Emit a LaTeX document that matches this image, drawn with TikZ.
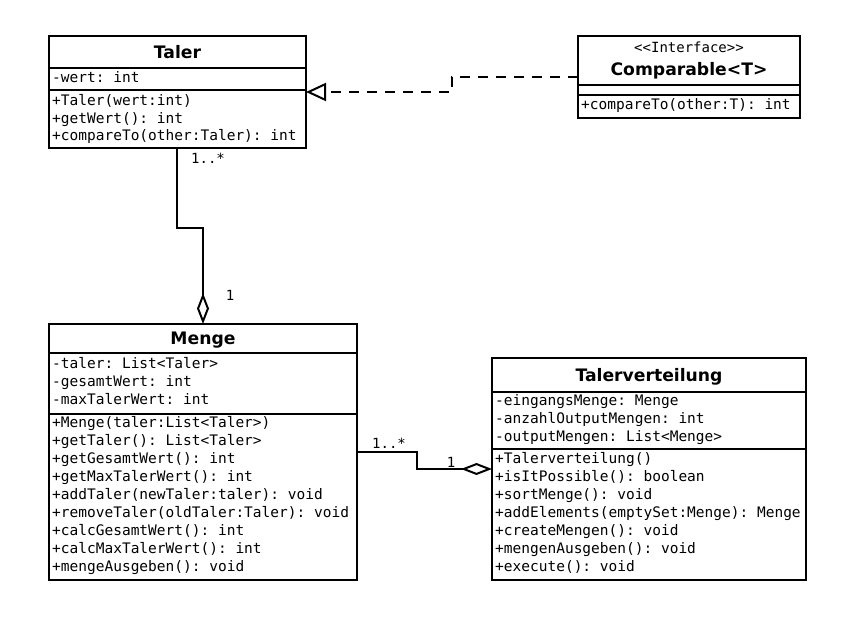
\documentclass[tikz,border=0pt]{standalone}
\usepackage{fontspec}
\setmainfont{DejaVu Sans}
\setmonofont{DejaVu Sans Mono}
\usetikzlibrary{arrows.meta}
\begin{document}
\begin{tikzpicture}[x=1pt,y=-1pt,
  box/.style={draw, line width=2pt, anchor=north west, inner sep=0pt, outer sep=0pt},
  sep/.style={line width=2pt},
  mem/.style={anchor=west, inner sep=0pt, text height=11pt, text depth=3.5pt, font=\ttfamily\fontsize{14.5}{18}\selectfont},
  ttl/.style={anchor=center, inner sep=0pt, text height=12.5pt, text depth=0pt, font=\bfseries\fontsize{17.2}{20}\selectfont},
  stereo/.style={anchor=center, inner sep=0pt, text height=10pt, text depth=2pt, font=\ttfamily\fontsize{14}{16}\selectfont},
  lbl/.style={anchor=center, inner sep=0pt, text height=10pt, text depth=0pt, font=\ttfamily\fontsize{14}{16}\selectfont},
  agg/.style={line width=2pt, -{Diamond[open, length=31pt, width=12pt, line width=2pt]}},
  real/.style={line width=2pt, dash pattern=on 10pt off 8pt, -{Triangle[open, length=20pt, width=18pt, line width=2pt]}},
]
\useasboundingbox (0,0) rectangle (849,629);

% ---------- Taler ----------
\node[box, minimum width=257pt, minimum height=112pt] (taler) at (49,36) {};
\draw[sep] (49,68) -- (306,68);
\draw[sep] (49,90) -- (306,90);
\node[ttl] (talerT) at (177.5,52) {Taler};
\node[mem] (talerA1) at (52,79) {-wert: int};
\node[mem] (talerM1) at (52,101.5) {+Taler(wert:int)};
\node[mem] (talerM2) at (52,119.5) {+getWert(): int};
\node[mem] (talerM3) at (52,137) {+compareTo(other:Taler): int};

% ---------- Comparable ----------
\node[box, minimum width=222pt, minimum height=82pt] (comp) at (578,36) {};
\draw[sep] (578,85) -- (800,85);
\draw[sep] (578,95) -- (800,95);
\node[stereo] (compS) at (689,48) {<<Interface>>};
\node[ttl] (compT) at (689,69) {Comparable<T>};
\node[mem] (compM1) at (581,106) {+compareTo(other:T): int};

% ---------- Menge ----------
\node[box, minimum width=308pt, minimum height=256pt] (menge) at (49,324) {};
\draw[sep] (49,353) -- (357,353);
\draw[sep] (49,414) -- (357,414);
\node[ttl] (mengeT) at (203,338.5) {Menge};
\node[mem] (mengeA1) at (52,365) {-taler: List<Taler>};
\node[mem] (mengeA2) at (52,383) {-gesamtWert: int};
\node[mem] (mengeA3) at (52,401) {-maxTalerWert: int};
\node[mem] (mengeM1) at (52,424) {+Menge(taler:List<Taler>)};
\node[mem] (mengeM2) at (52,442) {+getTaler(): List<Taler>};
\node[mem] (mengeM3) at (52,460) {+getGesamtWert(): int};
\node[mem] (mengeM4) at (52,478) {+getMaxTalerWert(): int};
\node[mem] (mengeM5) at (52,496) {+addTaler(newTaler:taler): void};
\node[mem] (mengeM6) at (52,514) {+removeTaler(oldTaler:Taler): void};
\node[mem] (mengeM7) at (52,532) {+calcGesamtWert(): int};
\node[mem] (mengeM8) at (52,550) {+calcMaxTalerWert(): int};
\node[mem] (mengeM9) at (52,568) {+mengeAusgeben(): void};

% ---------- Talerverteilung ----------
\node[box, minimum width=314pt, minimum height=222pt] (tv) at (492,358) {};
\draw[sep] (492,392) -- (806,392);
\draw[sep] (492,449) -- (806,449);
\node[ttl] (tvT) at (649,375.5) {Talerverteilung};
\node[mem] (tvA1) at (495,402) {-eingangsMenge: Menge};
\node[mem] (tvA2) at (495,420) {-anzahlOutputMengen: int};
\node[mem] (tvA3) at (495,438) {-outputMengen: List<Menge>};
\node[mem] (tvM1) at (495,460) {+Talerverteilung()};
\node[mem] (tvM2) at (495,478) {+isItPossible(): boolean};
\node[mem] (tvM3) at (495,496) {+sortMenge(): void};
\node[mem] (tvM4) at (495,514) {+addElements(emptySet:Menge): Menge};
\node[mem] (tvM5) at (495,532) {+createMengen(): void};
\node[mem] (tvM6) at (495,550) {+mengenAusgeben(): void};
\node[mem] (tvM7) at (495,568) {+execute(): void};

% ---------- connectors ----------
\coordinate (c1) at (177,0);
\coordinate (c2) at (203,228);
\coordinate (c3) at (203,0);
\draw[agg] (taler.south -| c1) |- (c2) -- (menge.north -| c3);
\node[lbl] (l1) at (208,158) {1..*};
\node[lbl] (l2) at (230,295) {1};

\coordinate (c4) at (417,469);
\draw[agg] (menge.east) -| (c4) -- (tv.west);
\node[lbl] (l3) at (389,443) {1..*};
\node[lbl] (l4) at (451,462) {1};

\coordinate (c5) at (452,92);
\draw[real] (comp.west) -| (c5) -- (taler.east);
\end{tikzpicture}
\end{document}
